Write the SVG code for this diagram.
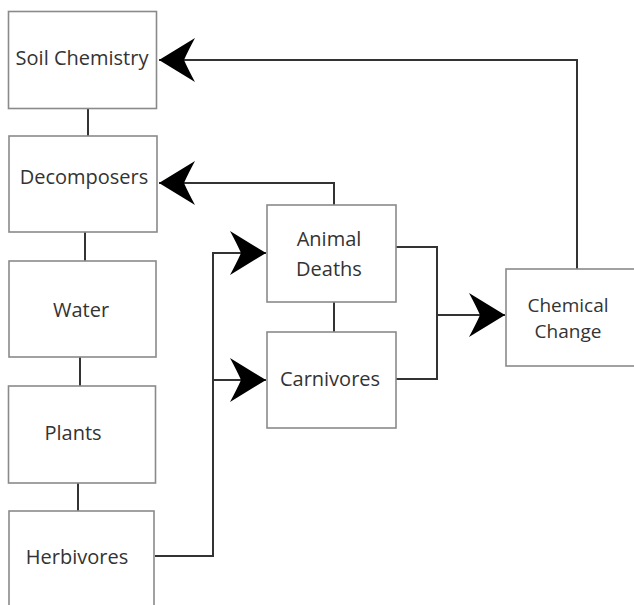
<svg xmlns="http://www.w3.org/2000/svg" width="634" height="605" viewBox="0 0 634 605">
  <style>
    .box { fill: #ffffff; stroke: #8a8a8a; stroke-width: 1.6; }
    .label { font-family: "Open Sans", "Noto Sans", "DejaVu Sans", sans-serif; font-size: 20px; fill: #333333; text-anchor: middle; }
    .tight { font-size: 19px; }
    .wire { fill: none; stroke: #333333; stroke-width: 2; }
  </style>
  <defs>
    <marker id="barb" markerUnits="userSpaceOnUse" markerWidth="40" markerHeight="50" viewBox="-38 -25 40 50" refX="0" refY="0" orient="auto">
      <path d="M0,0 L-36,-22 Q-29,-9 -25,0 Q-29,9 -36,22 Z" fill="#000000"/>
    </marker>
  </defs>
  <rect width="634" height="605" fill="#ffffff"/>

  <g id="connectors">
    <path class="wire" d="M88,108 V136"/>
    <path class="wire" d="M85,232 V261"/>
    <path class="wire" d="M80,357 V386"/>
    <path class="wire" d="M78,483 V511"/>
    <path class="wire" d="M334,302 V332"/>
    <path class="wire" d="M577,269 V60 H159" marker-end="url(#barb)"/>
    <path class="wire" d="M334,205 V183 H159" marker-end="url(#barb)"/>
    <path class="wire" d="M155,556 H213 V253 H266" marker-end="url(#barb)"/>
    <path class="wire" d="M213,380 H266" marker-end="url(#barb)"/>
    <path class="wire" d="M396,247 H437 V379 H396"/>
    <path class="wire" d="M437,315 H505" marker-end="url(#barb)"/>
  </g>

  <g id="soil-chemistry">
    <rect class="box" x="8.5" y="11.5" width="148" height="97"/>
    <text class="label" x="82" y="65">Soil Chemistry</text>
  </g>
  <g id="decomposers">
    <rect class="box" x="9" y="136" width="148" height="96"/>
    <text class="label" x="84" y="184">Decomposers</text>
  </g>
  <g id="water">
    <rect class="box" x="9" y="261" width="147" height="96"/>
    <text class="label" x="81" y="317">Water</text>
  </g>
  <g id="plants">
    <rect class="box" x="8.5" y="386" width="147" height="97"/>
    <text class="label" x="73" y="440">Plants</text>
  </g>
  <g id="herbivores">
    <rect class="box" x="9" y="511" width="145" height="100"/>
    <text class="label" x="77" y="564">Herbivores</text>
  </g>
  <g id="animal-deaths">
    <rect class="box" x="267" y="205" width="129" height="97"/>
    <text class="label" x="329" y="246">Animal</text>
    <text class="label" x="329" y="276">Deaths</text>
  </g>
  <g id="carnivores">
    <rect class="box" x="267" y="332" width="129" height="96"/>
    <text class="label" x="330" y="386">Carnivores</text>
  </g>
  <g id="chemical-change">
    <rect class="box" x="506" y="269" width="132" height="97"/>
    <text class="label tight" x="568" y="312">Chemical</text>
    <text class="label tight" x="568" y="338">Change</text>
  </g>
</svg>
